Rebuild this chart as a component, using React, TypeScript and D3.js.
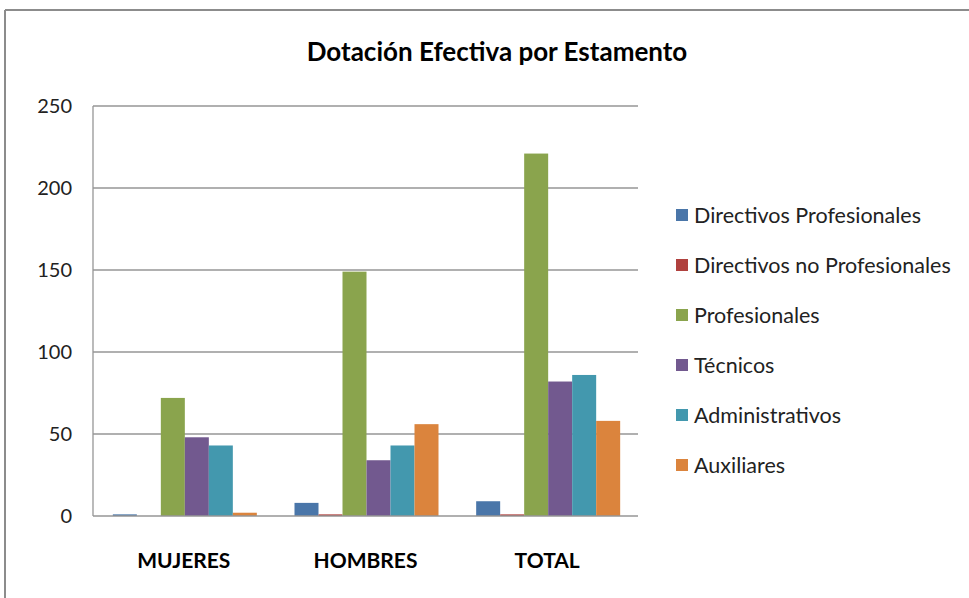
import React from "react";
import * as d3 from "d3";

const categories = ["MUJERES", "HOMBRES", "TOTAL"];
const seriesNames = [
  "Directivos Profesionales",
  "Directivos no Profesionales",
  "Profesionales",
  "Técnicos",
  "Administrativos",
  "Auxiliares",
];
const directivosProfesionales = [1, 8, 9];
const directivosNoProfesionales = [0, 1, 1];
const profesionales = [72, 149, 221];
const tecnicos = [48, 34, 82];
const administrativos = [43, 43, 86];
const auxiliares = [2, 56, 58];
const seriesValues = [
  directivosProfesionales,
  directivosNoProfesionales,
  profesionales,
  tecnicos,
  administrativos,
  auxiliares,
];
const colors = ["#4a76a9", "#b0413e", "#8aa44d", "#72598f", "#4398ae", "#db843d"];
const yTicks = [0, 50, 100, 150, 200, 250];

export default function App() {
  const W = 969, H = 598;
  const left = 93, right = 638, top = 106, bottom = 516;
  const x0 = d3.scaleBand().domain(categories).range([left, right]).paddingInner(0).paddingOuter(0);
  const groupW = 144;
  const x1 = d3
    .scaleBand()
    .domain(seriesNames)
    .range([0, groupW]);
  const y = d3.scaleLinear().domain([0, 250]).range([bottom, top]);
  const font = "Lato, 'Open Sans', sans-serif";

  return (
    <svg width={W} height={H} style={{ position: "absolute", left: 0, top: 0, background: "#fff" }}>
      <rect x={0} y={0} width={W} height={H} fill="#fff" />
      <line x1={5} y1={10} x2={W} y2={10} stroke="#8c8c8c" strokeWidth={2} />
      <line x1={5} y1={10} x2={5} y2={H} stroke="#8c8c8c" strokeWidth={2} />
      <text x={497} y={61} textAnchor="middle" fontFamily={font} fontWeight="bold" fontSize={26} fill="#000">
        Dotación Efectiva por Estamento
      </text>
      {yTicks.map((t) => (
        <g key={t}>
          {t > 0 && (
            <line x1={left} x2={right} y1={y(t)} y2={y(t)} stroke="#969696" strokeWidth={1.3} />
          )}
          <text x={72} y={y(t) + 7} textAnchor="end" fontFamily={font} fontSize={20} fill="#222">
            {t}
          </text>
        </g>
      ))}
      {categories.map((c, ci) => {
        const gx = (x0(c) as number) + (x0.bandwidth() - groupW) / 2 + 1;
        return (
          <g key={c}>
            {seriesNames.map((s, si) => {
              const v = seriesValues[si][ci];
              if (v <= 0) return null;
              return (
                <rect
                  key={s}
                  x={gx + (x1(s) as number)}
                  y={y(v)}
                  width={x1.bandwidth()}
                  height={bottom - y(v)}
                  fill={colors[si]}
                />
              );
            })}
            <text
              x={(x0(c) as number) + x0.bandwidth() / 2}
              y={568}
              textAnchor="middle"
              fontFamily={font}
              fontWeight="bold"
              fontSize={21}
              fill="#000"
            >
              {c}
            </text>
          </g>
        );
      })}
      <line x1={left} x2={left} y1={top} y2={bottom} stroke="#969696" strokeWidth={1.3} />
      <line x1={left} x2={right} y1={bottom} y2={bottom} stroke="#969696" strokeWidth={1.3} />
      {seriesNames.map((s, i) => (
        <g key={s}>
          <rect x={676} y={209 + i * 50} width={12} height={12} fill={colors[i]} />
          <text x={694} y={223 + i * 50} fontFamily={font} fontSize={21.5} fill="#222">
            {s}
          </text>
        </g>
      ))}
    </svg>
  );
}
